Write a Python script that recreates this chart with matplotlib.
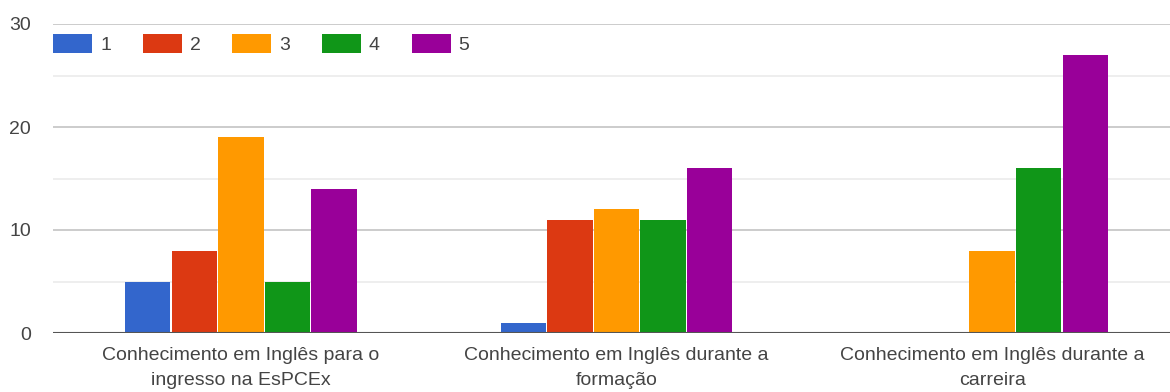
import matplotlib
matplotlib.use("Agg")
import matplotlib.pyplot as plt
import numpy as np

categories = [
    "Conhecimento em Inglês para o\ningresso na EsPCEx",
    "Conhecimento em Inglês durante a\nformação",
    "Conhecimento em Inglês durante a\ncarreira",
]
series_labels = ["1", "2", "3", "4", "5"]
values = {
    "1": [5, 1, 0],
    "2": [8, 11, 0],
    "3": [19, 12, 8],
    "4": [5, 11, 16],
    "5": [14, 16, 27],
}
colors = ["#3366cc", "#dc3912", "#ff9900", "#109618", "#990099"]
y_ticks = [0, 10, 20, 30]

plt.rcParams["font.family"] = ["Liberation Sans", "DejaVu Sans"]
FS = 14

W, H = 1170, 392
fig = plt.figure(figsize=(W / 100, H / 100), dpi=100)
left, right, top, bottom = 53, 1180, 24, 333
ax = fig.add_axes([left / W, (H - bottom) / H, (right - left) / W, (bottom - top) / H])

x = np.arange(len(categories))
pitch = 0.124
bw = 0.121
handles = []
for i, (lab, col) in enumerate(zip(series_labels, colors)):
    vals = np.array(values[lab], dtype=float)
    offs = (i - 2) * pitch
    mask = vals > 0
    ax.bar(x[mask] + offs, vals[mask], width=bw, color=col, linewidth=0, zorder=3)
    handles.append(plt.Rectangle((0, 0), 1, 1, facecolor=col, edgecolor="none"))

ax.set_xlim(-0.5, len(categories) - 0.5)
ax.set_ylim(0, 30)

# grid: major and minor lines
for v in [5, 15, 25]:
    ax.axhline(v, color="#ebebeb", linewidth=1.2, zorder=1)
for v in [10, 20, 30]:
    ax.axhline(v, color="#cccccc", linewidth=1.4, zorder=1)
ax.axhline(0, color="#555555", linewidth=1.5, zorder=4)

for s in ax.spines.values():
    s.set_visible(False)

ax.set_yticks(y_ticks)
ax.set_yticklabels([str(t) for t in y_ticks])
ax.tick_params(axis="y", length=0, pad=16, labelsize=FS, labelcolor="#444444")
ax.set_xticks(x)
ax.set_xticklabels(categories, linespacing=1.6)
ax.tick_params(axis="x", length=0, pad=10, labelsize=FS, labelcolor="#444444")

ax.legend(handles, series_labels, loc="center left", bbox_to_anchor=(0.0, 0.935),
          ncol=5, frameon=False, fontsize=FS, handlelength=2.0, handleheight=1.1,
          handletextpad=0.42, columnspacing=1.63, borderaxespad=0.0, borderpad=0.0,
          labelcolor="#444444")

fig.savefig("out.png", dpi=100, facecolor="white")
